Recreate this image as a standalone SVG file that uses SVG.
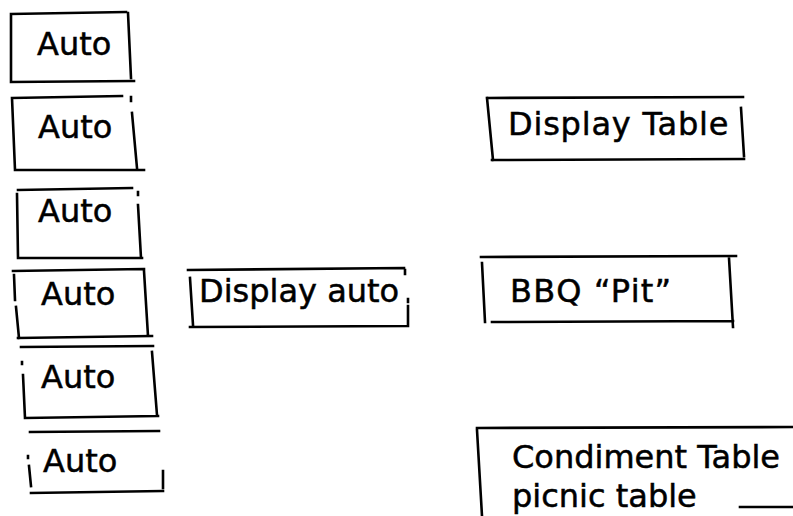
<svg xmlns="http://www.w3.org/2000/svg" width="793" height="516" viewBox="0 0 793 516">
<style>
.b{fill:none;stroke:#000;stroke-width:2.6;stroke-linecap:square}
.t{font-family:"DejaVu Sans",sans-serif;font-size:32px;fill:#000;stroke:#000;stroke-width:0.5}
</style>
<rect width="793" height="516" fill="#fff"/>
<g id="auto1"><path class="b" d="M11,14 L126,12 M128,13 L131,78 M11,82 L134,81 M11,14 L11,82"/><text class="t" x="37" y="55">Auto</text></g>
<g id="auto2"><path class="b" d="M12,98 L122,96 M131,97 L131,101 M132,113 L137,168 M15,170 L144,170 M12,98 L15,170"/><text class="t" x="38" y="138">Auto</text></g>
<g id="auto3"><path class="b" d="M18,190 L132,188 M138,192 L138,195 M138,205 L141,258 M18,258 L142,258 M17,194 L18,258"/><text class="t" x="38" y="222">Auto</text></g>
<g id="auto4"><path class="b" d="M13,271 L144,269 M144,271 L148,336 M18,338 L152,336 M14,275 L15,300 M16,307 L19,338"/><text class="t" x="41" y="305">Auto</text></g>
<g id="auto5"><path class="b" d="M21,347 L153,346 M152,352 L157,415 M25,418 L158,416 M22,362 L22,364 M23,375 L25,418"/><text class="t" x="41" y="388">Auto</text></g>
<g id="auto6"><path class="b" d="M30,432 L159,431 M163,471 L163,488 M31,493 L163,491 M28,456 L28,458 M29,466 L31,486"/><text class="t" x="43" y="472">Auto</text></g>
<g id="display-auto"><path class="b" d="M188,270 L404,268 M405,270 L405,274 M408,299 L408,302 M408,306 L408,326 M190,278 L193,325 M190,327 L408,326"/><text class="t" x="199" y="302" font-size="30">Display auto</text></g>
<g id="display-table"><path class="b" d="M487,98 L743,97 M487,98 L493,160 M492,160 L744,159 M741,108 L744,156"/><text class="t" x="508" y="135" letter-spacing="0.8">Display Table</text></g>
<g id="bbq-pit"><path class="b" d="M481,257 L736,256 M482,263 L485,322 M492,322 L733,321 M729,258 L733,327"/><text class="t" x="510" y="302" letter-spacing="1.2">BBQ “Pit”</text></g>
<g id="condiment"><path class="b" d="M477,428 L793,427 M477,430 L482,516 M740,507 L793,507"/><text class="t" x="512" y="468">Condiment Table</text><text class="t" x="512" y="507">picnic table</text></g>
<g id="connectors"/>
</svg>
